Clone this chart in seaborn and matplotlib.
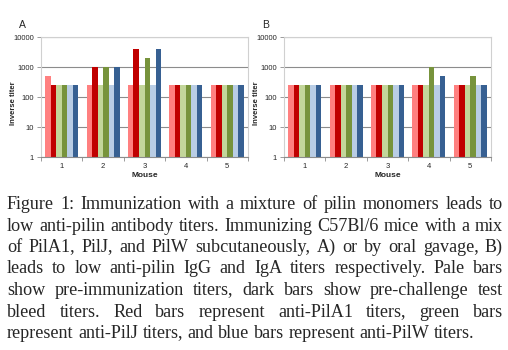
import math
import matplotlib
matplotlib.use("Agg")
from matplotlib import pyplot as plt
from matplotlib.font_manager import FontProperties
import seaborn as sns
import pandas as pd

# data
mice = ["1", "2", "3", "4", "5"]
series = ["PilA1 pre", "PilA1 test", "PilJ pre", "PilJ test", "PilW pre", "PilW test"]
colors = ["#FF8080", "#C00000", "#C3D69B", "#77933C", "#B9CDE5", "#376092"]

titers_a = {
    "PilA1 pre": [500, 250, 250, 250, 250],
    "PilA1 test": [250, 1000, 4000, 250, 250],
    "PilJ pre": [250, 250, 250, 250, 250],
    "PilJ test": [250, 1000, 2000, 250, 250],
    "PilW pre": [250, 250, 250, 250, 250],
    "PilW test": [250, 1000, 4000, 250, 250],
}
titers_b = {
    "PilA1 pre": [250, 250, 250, 250, 250],
    "PilA1 test": [250, 250, 250, 250, 250],
    "PilJ pre": [250, 250, 250, 250, 250],
    "PilJ test": [250, 250, 250, 1000, 500],
    "PilW pre": [250, 250, 250, 250, 250],
    "PilW test": [250, 250, 250, 500, 250],
}

caption_lines = [
    "Figure 1: Immunization with a mixture of pilin monomers leads to",
    "low anti-pilin antibody titers. Immunizing C57Bl/6 mice with a mix",
    "of PilA1, PilJ, and PilW subcutaneously, A) or by oral gavage, B)",
    "leads to low anti-pilin IgG and IgA titers respectively. Pale bars",
    "show pre-immunization titers, dark bars show pre-challenge test",
    "bleed titers. Red bars represent anti-PilA1 titers, green bars",
    "represent anti-PilJ titers, and blue bars represent anti-PilW titers.",
]


def to_long(d):
    rows = []
    for s in series:
        for m, v in zip(mice, d[s]):
            rows.append({"Mouse": m, "series": s, "titer": v})
    return pd.DataFrame(rows)


sns.set_style("white")
plt.rcParams["font.family"] = ["Liberation Sans", "DejaVu Sans"]

fig = plt.figure(figsize=(5.08, 3.5), dpi=100)
panels = [("A", titers_a, 41), ("B", titers_b, 284)]

for letter, d, left_px in panels:
    ax = fig.add_axes([left_px / 508, 193 / 350, 207 / 508, 120 / 350])
    ax.set_yscale("log")
    df = to_long(d)
    sns.barplot(data=df, x="Mouse", y="titer", hue="series", hue_order=series,
                order=mice, palette=colors, saturation=1, width=0.8, gap=0,
                errorbar=None, ax=ax, legend=False, linewidth=0)
    ax.set_ylim(1, 10000)
    ax.set_xlim(-0.5, 4.5)
    ax.set_yticks([1, 10, 100, 1000, 10000])
    ax.set_yticklabels(["1", "10", "100", "1000", "10000"])
    ax.minorticks_off()
    ax.yaxis.grid(True, color="#8c8c8c", lw=0.8)
    ax.set_axisbelow(True)
    for sp in ["top", "right", "left"]:
        ax.spines[sp].set_color("#d0d0d0")
        ax.spines[sp].set_linewidth(0.8)
    ax.spines["bottom"].set_color("#8c8c8c")
    ax.spines["bottom"].set_linewidth(0.8)
    # category ticks between groups
    ax.set_xticks(range(5))
    ax.set_xticklabels(mice)
    ax.set_xticks([i - 0.5 for i in range(6)], minor=True)
    ax.tick_params(axis="x", which="major", length=0, labelsize=5.5, pad=4)
    ax.tick_params(axis="x", which="minor", length=3, color="#8c8c8c", width=0.6,
                   bottom=True)
    ax.tick_params(axis="y", which="major", length=3, color="#8c8c8c", width=0.6,
                   labelsize=5.5, pad=2, left=True)
    ax.set_xlabel("Mouse", fontsize=6, fontweight="bold")
    ax.xaxis.set_label_coords(0.5, -(172 - 157) / 120)
    ax.set_ylabel("Inverse titer", fontsize=5.5, fontweight="bold")
    ax.yaxis.set_label_coords(-24 / 207, 0.45)
    ax.text(-22 / 207, 1.1, letter, transform=ax.transAxes, fontsize=7.5, va="center")

# justified caption, one text per word
fig.canvas.draw()
renderer = fig.canvas.get_renderer()
x0, x1 = 7, 503
families = ["Liberation Serif", "DejaVu Serif"]
size = 13.1
prop = FontProperties(family=families, size=size)


def metrics(s):
    return renderer.get_text_width_height_descent(s, prop, ismath=False)


space_w = metrics("a b")[0] - metrics("ab")[0]
for i, line in enumerate(caption_lines):
    base = 209 + round(i * 21.5)
    words = line.split(" ")
    m = [metrics(w) for w in words]
    widths = [w for w, _, _ in m]
    if i == len(caption_lines) - 1:
        gap = space_w
    else:
        gap = (x1 - x0 - sum(widths)) / (len(words) - 1)
    x = x0
    for w, (ww, hh, dsc) in zip(words, m):
        # put every word's glyph bitmap on the same pixel baseline
        yf = base - dsc + math.floor(hh) - math.floor(hh - dsc)
        fig.text(x / 508, (350 - yf) / 350, w, family=families, size=size,
                 va="baseline", ha="left")
        x += ww + gap

fig.savefig("out.png", dpi=100)
